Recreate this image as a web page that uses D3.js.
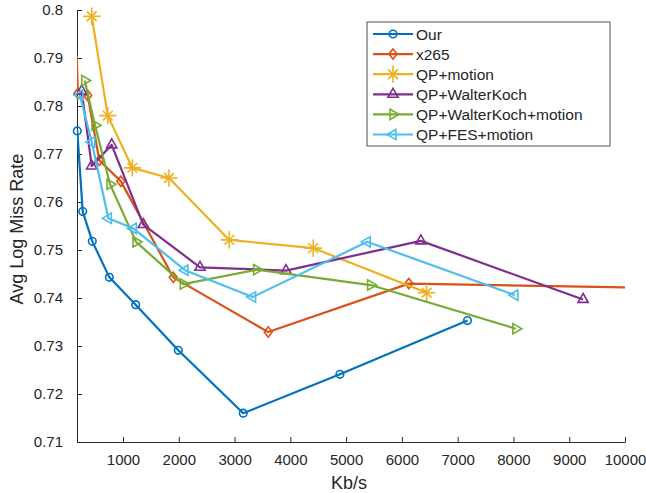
<!DOCTYPE html>
<html>
<head>
<meta charset="utf-8">
<script src="https://cdn.jsdelivr.net/npm/d3@7"></script>
<style>
  body { margin: 0; background: #fff; }
  text { font-family: "Liberation Sans", Arial, sans-serif; fill: #262626; }
</style>
</head>
<body>
<svg id="chart"></svg>
<script>
// data
const ourX = [180, 278, 449, 755, 1227, 1991, 3156, 4889, 7176];
const ourY = [0.7748, 0.7580, 0.7518, 0.7443, 0.7386, 0.7291, 0.7160, 0.7241, 0.7353];

const x265X = [170, 190, 367, 575, 962, 1901, 3604, 6125, 11000];
const x265Y = [0.7905, 0.7826, 0.7822, 0.7687, 0.7643, 0.7443, 0.7329, 0.7430, 0.7420];

const qpMotionX = [439, 726, 1167, 1824, 2905, 4410, 6443];
const qpMotionY = [0.7987, 0.7780, 0.7671, 0.7650, 0.7521, 0.7504, 0.7411];

const walterX = [259, 439, 797, 1364, 2380, 3921, 6340, 9249];
const walterY = [0.7831, 0.7675, 0.7719, 0.7553, 0.7464, 0.7457, 0.7519, 0.7397];

const walterMotionX = [313, 498, 767, 1233, 2081, 3396, 5439, 8043];
const walterMotionY = [0.7853, 0.7760, 0.7637, 0.7517, 0.7429, 0.7459, 0.7427, 0.7336];

const fesX = [226, 439, 737, 1185, 2111, 3324, 5378, 8025];
const fesY = [0.7823, 0.7725, 0.7566, 0.7545, 0.7458, 0.7402, 0.7517, 0.7406];

const seriesNames = ["Our", "x265", "QP+motion", "QP+WalterKoch", "QP+WalterKoch+motion", "QP+FES+motion"];
const xTicks = [1000, 2000, 3000, 4000, 5000, 6000, 7000, 8000, 9000, 10000];
const yTicks = [0.71, 0.72, 0.73, 0.74, 0.75, 0.76, 0.77, 0.78, 0.79, 0.8];

const series = [
  { name: seriesNames[0], xs: ourX, ys: ourY, color: "#0072BD", marker: "circle" },
  { name: seriesNames[1], xs: x265X, ys: x265Y, color: "#D95319", marker: "diamond" },
  { name: seriesNames[2], xs: qpMotionX, ys: qpMotionY, color: "#EDB120", marker: "asterisk" },
  { name: seriesNames[3], xs: walterX, ys: walterY, color: "#7E2F8E", marker: "up" },
  { name: seriesNames[4], xs: walterMotionX, ys: walterMotionY, color: "#77AC30", marker: "right" },
  { name: seriesNames[5], xs: fesX, ys: fesY, color: "#4DBEEE", marker: "left" }
];

const svgWidth = 646;
const svgHeight = 493;
const margin = { top: 10, right: 21, bottom: 51, left: 77 };
const width = svgWidth - margin.left - margin.right;
const height = svgHeight - margin.top - margin.bottom;

const svg = d3.select("#chart")
  .attr("width", svgWidth)
  .attr("height", svgHeight);

const chart = svg.append("g")
  .attr("transform", "translate(" + margin.left + "," + margin.top + ")");

const xScale = d3.scaleLinear().domain([175, 10000]).range([0, width]);
const yScale = d3.scaleLinear().domain([0.71, 0.8]).range([height, 0]);

// axes (MATLAB style: ticks inside, no box)
const xAxisGroup = chart.append("g")
  .attr("transform", "translate(0," + height + ")")
  .call(d3.axisBottom(xScale).tickValues(xTicks).tickSize(-5).tickPadding(12).tickFormat(d3.format("d")).tickSizeOuter(0));

const yAxisGroup = chart.append("g")
  .call(d3.axisLeft(yScale).tickValues(yTicks).tickSize(-5).tickPadding(14).tickFormat(d => String(+d.toFixed(2))).tickSizeOuter(0));

[xAxisGroup, yAxisGroup].forEach(g => {
  g.select(".domain").attr("stroke", "#262626").attr("stroke-width", 1);
  g.selectAll(".tick line").attr("stroke", "#262626");
  g.selectAll(".tick text").attr("fill", "#262626").style("font-size", "15px");
});

// axis labels
svg.append("text")
  .attr("x", margin.left + xScale(5000) + 3)
  .attr("y", 489)
  .attr("text-anchor", "middle")
  .style("font-size", "18px")
  .text("Kb/s");

svg.append("text")
  .attr("transform", "translate(23," + (margin.top + height / 2 + 3) + ") rotate(-90)")
  .attr("text-anchor", "middle")
  .style("font-size", "18px")
  .text("Avg Log Miss Rate");

// clip lines to the axes area
chart.append("clipPath").attr("id", "plotClip")
  .append("rect").attr("x", 0).attr("y", -6).attr("width", width).attr("height", height + 6);

function drawMarker(g, type, color, cx, cy) {
  const s = g.append("g").attr("transform", "translate(" + cx + "," + cy + ")");
  const sty = p => p.attr("fill", "none").attr("stroke", color).attr("stroke-width", 1.6);
  if (type === "circle") sty(s.append("circle").attr("r", 3.8));
  else if (type === "diamond") sty(s.append("path").attr("d", "M0,-5.2L4,0L0,5.2L-4,0Z"));
  else if (type === "asterisk") {
    sty(s.append("path").attr("d", d3.symbol(d3.symbolPlus, 100)()));
    sty(s.append("path").attr("d", d3.symbol(d3.symbolTimes, 64)()));
  } else {
    const rot = { up: 0, right: 90, left: -90 }[type];
    sty(s.append("path").attr("d", d3.symbol(d3.symbolTriangle, 46)()).attr("transform", "rotate(" + rot + ")"));
  }
}

const line = d3.line().x(d => xScale(d[0])).y(d => yScale(d[1]));

series.forEach(sr => {
  const pts = sr.xs.map((v, i) => [v, sr.ys[i]]);
  chart.append("path")
    .datum(pts)
    .attr("clip-path", "url(#plotClip)")
    .attr("fill", "none")
    .attr("stroke", sr.color)
    .attr("stroke-width", 2.2)
    .attr("stroke-linejoin", "round")
    .attr("d", line);
  const mg = chart.append("g");
  pts.filter(p => p[0] >= xScale.domain()[0] && p[0] <= xScale.domain()[1])
    .forEach(p => drawMarker(mg, sr.marker, sr.color, xScale(p[0]), yScale(p[1])));
});

// legend
const legend = svg.append("g").attr("transform", "translate(367,22)");
legend.append("rect")
  .attr("width", 243).attr("height", 124)
  .attr("fill", "#fff").attr("stroke", "#262626").attr("stroke-width", 0.8);

series.forEach((sr, i) => {
  const yy = 12 + i * 20.1;
  legend.append("line")
    .attr("x1", 6).attr("x2", 46).attr("y1", yy).attr("y2", yy)
    .attr("stroke", sr.color).attr("stroke-width", 2.2);
  drawMarker(legend, sr.marker, sr.color, 26, yy);
  legend.append("text")
    .attr("x", 49).attr("y", yy + 5.5)
    .style("font-size", "15.5px")
    .text(sr.name);
});
</script>
</body>
</html>
